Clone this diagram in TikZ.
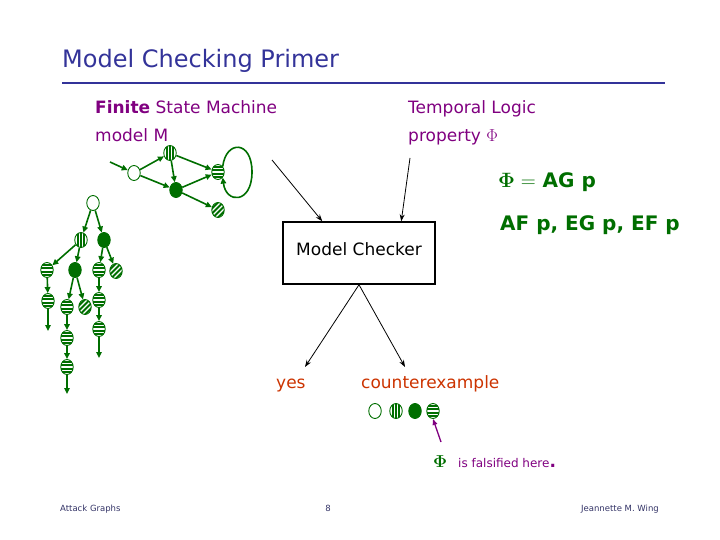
\documentclass[tikz,border=0pt]{standalone}
\usepackage[no-math]{fontspec}
\setmainfont{DejaVu Sans}
\usetikzlibrary{arrows.meta,positioning,shapes.geometric}
\definecolor{titleblue}{RGB}{51,51,153}
\definecolor{plum}{RGB}{128,0,128}
\definecolor{leaf}{RGB}{0,110,0}
\definecolor{rust}{RGB}{204,51,0}
\definecolor{footblue}{RGB}{51,51,102}

\begin{document}
\begin{tikzpicture}[x=1pt,y=-1pt,
  st/.style={ellipse,draw=leaf,line width=0.9pt,minimum width=12.5pt,minimum height=15pt,inner sep=0pt,fill=white},
  full/.style={st,fill=leaf},
  vst/.style={st,path picture={\foreach \d in {-3,0,3}
      \draw[leaf,line width=1.5pt] ([xshift=\d pt]path picture bounding box.north) -- ([xshift=\d pt]path picture bounding box.south);}},
  hst/.style={st,path picture={\foreach \d in {-5,-1.7,1.7,5}
      \draw[leaf,line width=1.7pt] ([yshift=\d pt]path picture bounding box.west) -- ([yshift=\d pt]path picture bounding box.east);}},
  dst/.style={st,path picture={\foreach \d in {-7.5,-2.5,2.5,7.5}
      \draw[leaf,line width=1.8pt] ([xshift=\d pt]path picture bounding box.center) +(-10pt,-10pt) -- +(10pt,10pt);}},
  e/.style={-{Triangle[length=6pt,width=5.5pt]},draw=leaf,line width=1.6pt},
  a/.style={-{Stealth[length=7pt,width=5pt]},line width=0.8pt},
  lbl/.style={anchor=base west,inner sep=0pt,font=\fontsize{17}{20}\selectfont}]
  \useasboundingbox (0,0) rectangle (720,540);

  % title
  \node[anchor=base west,inner sep=0pt,text=titleblue,font=\fontsize{24}{28}\selectfont] (title) at (62,68) {Model Checking Primer};
  \draw[titleblue,line width=1.8pt] (62,83) -- (665,83);

  % inputs
  \node[lbl,text=plum] (fsm) at (95,114) {\textbf{Finite} State Machine};
  \node[lbl,text=plum] (fsmb) at (95,142) {model M};
  \node[lbl,text=plum] (tl) at (408,114) {Temporal Logic};
  \node[lbl,text=plum] (tlb) at (408,142) {property $\Phi$};
  \node[lbl,text=leaf,font=\bfseries\fontsize{20}{24}\selectfont] (agp) at (498,188) {$\mathbf{\Phi}=$ AG p};
  \node[lbl,text=leaf,font=\bfseries\fontsize{20}{24}\selectfont] (afp) at (500,230) {AF p, EG p, EF p};

  % state machine
  \node[st] (s0) at (134,173) {};
  \node[vst] (s1) at (170,153) {};
  \node[full] (s2) at (176,190) {};
  \node[hst] (s3) at (218,172) {};
  \node[dst] (s4) at (218,210) {};
  \coordinate (init) at (110,162);
  \draw[e] (init) -- (s0);
  \draw[e] (s0) -- (s1);
  \draw[e] (s0) -- (s2);
  \draw[e] (s1) -- (s2);
  \draw[e] (s1) -- (s3);
  \draw[e] (s2) -- (s3);
  \draw[e] (s2) -- (s4);
  \draw[e] (s3.north east) .. controls (226,140) and (252,140) .. (252,172)
    .. controls (252,204) and (226,204) .. (s3.south east);

  % computation tree
  \node[st] (r0) at (93,203) {};
  \node[vst] (r1) at (81,240) {};
  \node[full] (r2) at (104,240) {};
  \node[hst] (r3) at (47,270) {};
  \node[full] (r4) at (75,270) {};
  \node[hst] (r5) at (99,270) {};
  \node[dst] (r6) at (116,271) {};
  \node[hst] (r7) at (48,301) {};
  \node[hst] (r8) at (67,307) {};
  \node[dst] (r9) at (85,307) {};
  \node[hst] (r10) at (99,300) {};
  \node[hst] (r11) at (67,338) {};
  \node[hst] (r12) at (99,329) {};
  \node[hst] (r13) at (67,367) {};
  \coordinate (x1) at (48,331);
  \coordinate (x2) at (99,358);
  \coordinate (x3) at (67,394);
  \foreach \u/\v in {r0/r1,r0/r2,r1/r3,r1/r4,r2/r5,r2/r6,r3/r7,r4/r8,r4/r9,r5/r10,
      r7/x1,r8/r11,r10/r12,r11/r13,r12/x2,r13/x3}
    \draw[e] (\u) -- (\v);

  % checker
  \node[draw,line width=1.5pt,minimum width=152pt,minimum height=62pt,text depth=8pt,
    font=\fontsize{17}{20}\selectfont] (mc) at (359,253) {Model Checker};
  \coordinate (fsmtail) at (272,160);
  \coordinate (tltail) at (410,158);
  \draw[a] (fsmtail) -- ([xshift=40pt]mc.north west);
  \draw[a] (tltail) -- ([xshift=119pt]mc.north west);

  % outputs
  \node[lbl,text=rust] (yes) at (276,388) {yes};
  \node[lbl,text=rust] (cex) at (361,388) {counterexample};
  \coordinate (yesin) at (305,367);
  \coordinate (cexin) at (405,367);
  \draw[a] (mc.south) -- (yesin);
  \draw[a] (mc.south) -- (cexin);

  \node[st] (c0) at (375,411) {};
  \node[vst] (c1) at (396,411) {};
  \node[full] (c2) at (415,411) {};
  \node[hst] (c3) at (433,411) {};
  \coordinate (fal) at (441,442);
  \draw[-{Triangle[length=6pt,width=4.5pt]},plum,line width=1.3pt] (fal) -- (c3.south);
  \node[anchor=base west,inner sep=0pt,text=leaf,font=\fontsize{17}{20}\selectfont] (phi) at (433,467) {$\mathbf{\Phi}$};
  \node[anchor=base west,inner sep=0pt,text=plum,font=\fontsize{12}{14}\selectfont] (fals) at (458,467) {is falsified here{\fontsize{17}{20}\selectfont\bfseries .}};

  % footer
  \node[anchor=base west,inner sep=0pt,text=footblue,font=\fontsize{8.5}{10}\selectfont] (foota) at (60,511) {Attack Graphs};
  \node[anchor=base,inner sep=0pt,text=footblue,font=\fontsize{8.5}{10}\selectfont] (footb) at (328,511) {8};
  \node[anchor=base east,inner sep=0pt,text=footblue,font=\fontsize{8.5}{10}\selectfont] (footc) at (659,511) {Jeannette M. Wing};
\end{tikzpicture}
\end{document}
